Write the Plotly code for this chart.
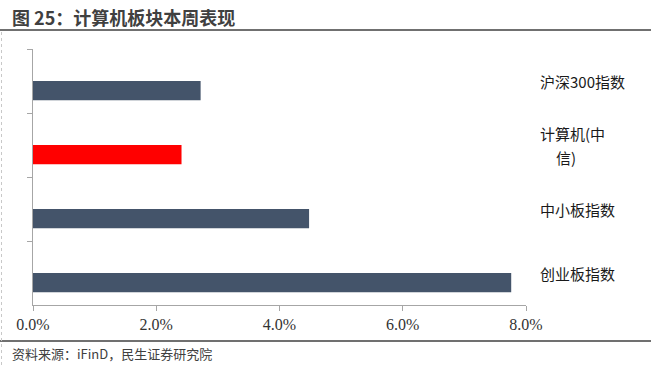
import plotly.graph_objects as go

# ---- data ----
categories = ["沪深300指数", "计算机(中信)", "中小板指数", "创业板指数"]
label_lines = [["沪深300指数"], ["计算机(中", "信)"], ["中小板指数"], ["创业板指数"]]
values = [2.72, 2.41, 4.48, 7.76]
bar_colors = ["#44546A", "#FF0000", "#44546A", "#44546A"]
x_ticks = [0, 2, 4, 6, 8]
x_tick_labels = ["0.0%", "2.0%", "4.0%", "6.0%", "8.0%"]
title_text = "图 25：计算机板块本周表现"
source_text = "资料来源：iFinD，民生证券研究院"

W, H = 651, 366
ML, MR, MT, MB = 33, 125, 49, 61
PW, PH = W - ML - MR, H - MT - MB


def px(x):
    return (x - ML) / PW


def py(y):
    return (H - MB - y) / PH


fig = go.Figure()
fig.add_trace(go.Bar(
    y=categories, x=values, orientation="h",
    marker=dict(color=bar_colors, line=dict(width=0)),
    width=0.3, offset=0, showlegend=False, hoverinfo="skip",
))

annotations = []
for cat, lines in zip(categories, label_lines):
    n = len(lines)
    for i, ln in enumerate(lines):
        yshift = (n - 1) * 12 - i * 24
        annotations.append(dict(
            x=8, y=cat, xref="x", yref="y", text=ln, showarrow=False,
            xanchor="left", yanchor="middle", xshift=12 + (16 if i > 0 else 0),
            yshift=yshift,
            font=dict(family="Noto Sans CJK SC", size=15, color="#1a1a1a"),
        ))

annotations.append(dict(
    x=px(10), y=py(17), xref="paper", yref="paper", text=f"<b>{title_text}</b>",
    showarrow=False, xanchor="left", yanchor="middle",
    font=dict(family="Noto Sans CJK SC", size=18, color="#404040"),
))
annotations.append(dict(
    x=px(10), y=py(353), xref="paper", yref="paper", text=source_text,
    showarrow=False, xanchor="left", yanchor="middle",
    font=dict(family="Noto Sans CJK SC", size=13, color="#404040"),
))

shapes = [
    dict(type="line", xref="paper", yref="paper", x0=px(0), x1=px(W), y0=py(30), y1=py(30),
         line=dict(color="#404040", width=1.5)),
    dict(type="line", xref="paper", yref="paper", x0=px(0), x1=px(W), y0=py(341), y1=py(341),
         line=dict(color="#404040", width=1.5)),
    dict(type="line", xref="paper", yref="paper", x0=px(1.5), x1=px(1.5), y0=py(32), y1=py(366),
         line=dict(color="#c8c8c8", width=1, dash="dot")),
]

fig.update_layout(
    width=W, height=H,
    margin=dict(l=ML, r=MR, t=MT, b=MB),
    paper_bgcolor="white", plot_bgcolor="white",
    annotations=annotations, shapes=shapes,
    xaxis=dict(
        range=[0, 8], tickvals=x_ticks, ticktext=x_tick_labels,
        showgrid=False, zeroline=False, showline=True, linecolor="#A6A6A6", linewidth=1,
        ticks="outside", ticklen=5, tickcolor="#A6A6A6",
        tickfont=dict(family="Liberation Serif, Times New Roman, serif", size=16, color="#333333"),
        ticklabelstandoff=0,
    ),
    yaxis=dict(
        type="category", categoryorder="array", categoryarray=categories,
        range=[3.5, -0.5], showticklabels=False, showgrid=False, zeroline=False,
        showline=True, linecolor="#A6A6A6", linewidth=1,
        ticks="outside", ticklen=5, tickcolor="#A6A6A6", tickson="boundaries",
    ),
)

fig.write_html(
    "out.html",
    config={"displayModeBar": False},
    post_script="document.body.style.margin='0px';document.body.style.overflow='hidden';",
)
